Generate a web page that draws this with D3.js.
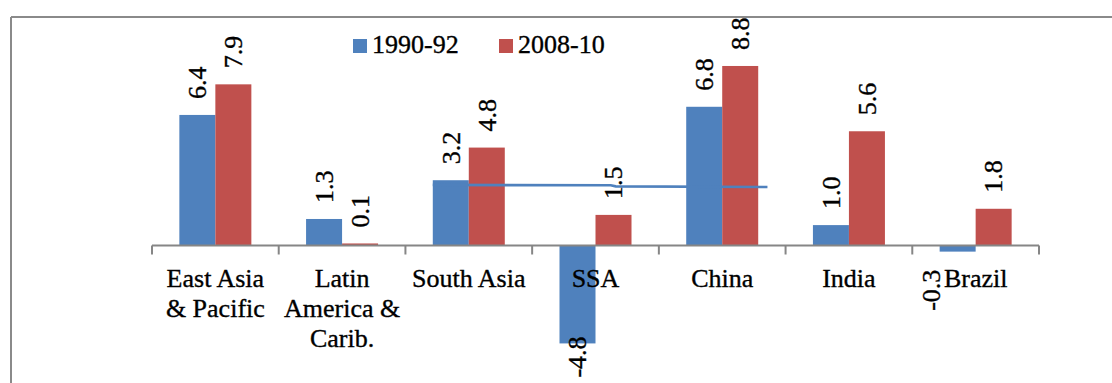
<!DOCTYPE html>
<html>
<head>
<meta charset="utf-8">
<script src="https://cdn.jsdelivr.net/npm/d3@7"></script>
<style>
  html, body { margin: 0; padding: 0; background: #fff; }
  svg { display: block; }
</style>
</head>
<body>
<svg id="chart" width="1112" height="383" font-family="'Liberation Serif', 'Times New Roman', 'DejaVu Serif', serif"></svg>
<script>
// Growth rates by region, two periods
const categories = ["East Asia\n& Pacific", "Latin\nAmerica &\nCarib.", "South Asia", "SSA", "China", "India", "Brazil"];
const seriesNames = ["1990-92", "2008-10"];
const values1990 = [6.4, 1.3, 3.2, -4.8, 6.8, 1.0, -0.3];
const values2008 = [7.9, 0.1, 4.8, 1.5, 8.8, 5.6, 1.8];
// hand-drawn reference line across the middle groups (category, position within band, value)
const refLine = [
  { cat: "South Asia", at: 0.216, v: 2.97 },
  { cat: "SSA", at: 0.62, v: 2.95 },
  { cat: "SSA", at: 0.66, v: 2.9 },
  { cat: "China", at: 0.857, v: 2.87 }
];

const colors = ["#4F81BD", "#C0504D"];
const FONT = "'Liberation Serif', 'Times New Roman', 'DejaVu Serif', serif";
const svg = d3.select("#chart");
const W = 1112, H = 383;

// text helper: serif, black, with a hairline stroke for a slightly heavier look
function styleText(sel) {
  return sel.attr("font-family", FONT).attr("font-size", 26)
    .attr("fill", "#000").attr("stroke", "#000").attr("stroke-width", 0.35);
}

// frame (only top and left edges fall inside the view)
svg.append("line").attr("x1", 11).attr("x2", W + 5).attr("y1", 17).attr("y2", 17)
  .attr("stroke", "#8a8a8a").attr("stroke-width", 2);
svg.append("line").attr("x1", 11).attr("x2", 11).attr("y1", 17).attr("y2", H + 5)
  .attr("stroke", "#8a8a8a").attr("stroke-width", 2);

const pxPerUnit = 20.4, base = 245.5;
const y = d3.scaleLinear().domain([-5, 9]).range([base + 5 * pxPerUnit, base - 9 * pxPerUnit]);
const x = d3.scaleBand().domain(categories).range([152, 1039]).paddingInner(0).paddingOuter(0);
const bw = x.bandwidth();
const groupFrac = 72 / bw;
const x1 = d3.scaleBand().domain(seriesNames)
  .range([bw * (0.5 - groupFrac / 2), bw * (0.5 + groupFrac / 2)]).padding(0);

const rows = categories.map((c, i) => ({ cat: c, vals: [values1990[i], values2008[i]] }));

// bars
const g = svg.append("g");
rows.forEach(r => {
  r.vals.forEach((v, k) => {
    const xx = x(r.cat) + x1(seriesNames[k]);
    g.append("rect")
      .attr("x", xx).attr("width", x1.bandwidth())
      .attr("y", y(Math.max(0, v))).attr("height", Math.abs(y(v) - y(0)))
      .attr("fill", colors[k]);
  });
});

// category axis
const axis = svg.append("g").attr("transform", `translate(0,${y(0)})`);
axis.append("line").attr("x1", x.range()[0]).attr("x2", x.range()[1])
  .attr("stroke", "#868686").attr("stroke-width", 2);
const tickPos = categories.map(c => x(c)).concat([x.range()[1]]);
axis.selectAll("line.tick").data(tickPos).enter().append("line")
  .attr("class", "tick").attr("x1", d => d).attr("x2", d => d)
  .attr("y1", 0).attr("y2", 9).attr("stroke", "#868686").attr("stroke-width", 2);

categories.forEach(c => {
  const lines = c.split("\n");
  const t = styleText(svg.append("text")).attr("text-anchor", "middle")
    .attr("x", x(c) + bw / 2).attr("y", 287);
  lines.forEach((ln, i) => {
    t.append("tspan").attr("x", x(c) + bw / 2).attr("y", 287 + i * 30).text(ln);
  });
});

// value labels, rotated
const labelNudge = { "SSA|0": { dx: 0, end: -7 }, "Brazil|0": { dx: -26, end: 18 } };
rows.forEach(r => {
  r.vals.forEach((v, k) => {
    const cx = x(r.cat) + x1(seriesNames[k]) + x1.bandwidth() / 2;
    const key = r.cat + "|" + k;
    const nudge = labelNudge[key] || { dx: 0, end: 17 };
    let ty, anchor;
    if (v >= 0) { ty = y(v) - 16; anchor = "start"; }
    else { ty = y(v) + nudge.end; anchor = "end"; }
    styleText(svg.append("text"))
      .attr("transform", `translate(${cx + nudge.dx},${ty}) rotate(-90)`)
      .attr("text-anchor", anchor).attr("dy", "0.34em")
      .text(v.toFixed(1));
  });
});

// reference line
const line = d3.line().x(d => x(d.cat) + d.at * bw).y(d => y(d.v));
svg.append("path").datum(refLine).attr("d", line)
  .attr("fill", "none").attr("stroke", "#4F81BD").attr("stroke-width", 2.6);

// legend
const legend = svg.append("g");
const legendX = [353, 499];
seriesNames.forEach((s, k) => {
  legend.append("rect").attr("x", legendX[k]).attr("y", 39).attr("width", 14).attr("height", 14)
    .attr("fill", colors[k]);
  styleText(legend.append("text")).attr("x", legendX[k] + 19).attr("y", 53).text(s);
});
</script>
</body>
</html>
